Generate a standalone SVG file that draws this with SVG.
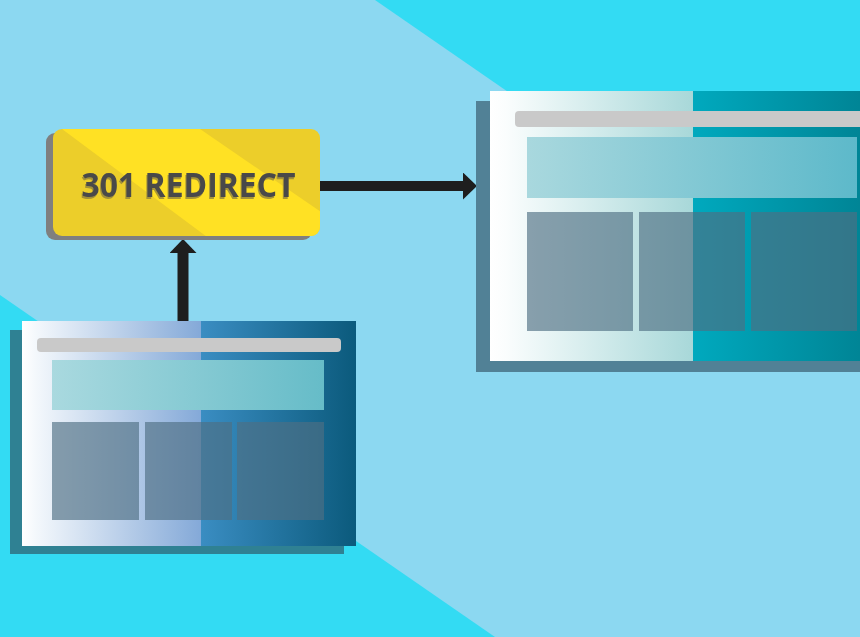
<svg xmlns="http://www.w3.org/2000/svg" width="860" height="637" viewBox="0 0 860 637">
  <defs>
    <linearGradient id="oldPage" gradientUnits="userSpaceOnUse" x1="22" y1="0" x2="356" y2="0">
      <stop offset="0" stop-color="#ffffff"/>
      <stop offset="0.04" stop-color="#f4f8fc"/>
      <stop offset="0.536" stop-color="#84a9d8"/>
      <stop offset="0.536" stop-color="#3a8dc2"/>
      <stop offset="1" stop-color="#0b5a7c"/>
    </linearGradient>
    <linearGradient id="newPage" gradientUnits="userSpaceOnUse" x1="490" y1="0" x2="900" y2="0">
      <stop offset="0" stop-color="#ffffff"/>
      <stop offset="0.04" stop-color="#fafdfd"/>
      <stop offset="0.495" stop-color="#a8d8d9"/>
      <stop offset="0.495" stop-color="#00a9be"/>
      <stop offset="1" stop-color="#007c8c"/>
    </linearGradient>
    <linearGradient id="oldBanner" gradientUnits="userSpaceOnUse" x1="52" y1="0" x2="324" y2="0">
      <stop offset="0" stop-color="#a9d9df"/>
      <stop offset="1" stop-color="#66bcc8"/>
    </linearGradient>
    <linearGradient id="newBanner" gradientUnits="userSpaceOnUse" x1="527" y1="0" x2="857" y2="0">
      <stop offset="0" stop-color="#a9d8de"/>
      <stop offset="1" stop-color="#5db9ca"/>
    </linearGradient>
    <marker id="head" markerUnits="userSpaceOnUse" markerWidth="14" markerHeight="27" refX="0" refY="13.5" orient="auto" viewBox="0 0 14 27">
      <path d="M0,0 L14,13.5 L0,27 Z" fill="#1e1e1e"/>
    </marker>
    <clipPath id="boxClip">
      <rect x="53" y="129" width="267" height="107" rx="9"/>
    </clipPath>
    <filter id="textShadow" x="-10%" y="-20%" width="120%" height="150%">
      <feOffset in="SourceAlpha" dx="-1.5" dy="2" result="off"/>
      <feFlood flood-color="#8a7d3c" flood-opacity="0.75"/>
      <feComposite in2="off" operator="in" result="shadow"/>
      <feMerge>
        <feMergeNode in="shadow"/>
        <feMergeNode in="SourceGraphic"/>
      </feMerge>
    </filter>
  </defs>
  <style>
    .bar { fill: #c9c9c9; }
    .block { fill: #4e6f83; fill-opacity: 0.65; }
    .conn { stroke: #1e1e1e; fill: none; marker-end: url(#head); }
    .label { font-family: "Open Sans", "Liberation Sans", sans-serif; font-weight: 700; font-size: 34px; }
  </style>

  <!-- background -->
  <rect x="0" y="0" width="860" height="637" fill="#8cd8f1"/>
  <polygon points="375,0 860,0 860,335" fill="#33dbf3"/>
  <polygon points="0,295 495,637 0,637" fill="#33dbf3"/>

  <!-- connectors -->
  <g id="connectors">
    <line class="conn" x1="319" y1="186" x2="463" y2="186" stroke-width="10"/>
    <line class="conn" x1="183" y1="322" x2="183" y2="253" stroke-width="11"/>
  </g>

  <!-- redirect node -->
  <g id="redirect">
    <rect x="46" y="133" width="266" height="107" rx="9" fill="#7f7f7f"/>
    <rect x="53" y="129" width="267" height="107" rx="9" fill="#ecce2a"/>
    <g clip-path="url(#boxClip)">
      <polygon points="62,129 200,129 340,225 340,260 238,260" fill="#ffe124"/>
    </g>
    <text class="label" x="81.5" y="197" fill="#4a4a4a" filter="url(#textShadow)" textLength="214" lengthAdjust="spacingAndGlyphs">301 REDIRECT</text>
  </g>

  <!-- old page node -->
  <g id="old-page">
    <rect x="10" y="330" width="334" height="224" fill="#2f8193"/>
    <rect x="22" y="321" width="334" height="225" fill="url(#oldPage)"/>
    <rect class="bar" x="37" y="338" width="304" height="14" rx="4"/>
    <rect x="52" y="360" width="272" height="50" fill="url(#oldBanner)"/>
    <rect class="block" x="52" y="422" width="87" height="98"/>
    <rect class="block" x="145" y="422" width="87" height="98"/>
    <rect class="block" x="237" y="422" width="87" height="98"/>
  </g>

  <!-- new page node -->
  <g id="new-page">
    <rect x="476" y="101" width="400" height="271" fill="#518196"/>
    <rect x="490" y="91" width="400" height="270" fill="url(#newPage)"/>
    <rect class="bar" x="515" y="111" width="360" height="16" rx="4"/>
    <rect x="527" y="137" width="330" height="61" fill="url(#newBanner)"/>
    <rect class="block" x="527" y="212" width="106" height="119"/>
    <rect class="block" x="639" y="212" width="106" height="119"/>
    <rect class="block" x="751" y="212" width="106" height="119"/>
  </g>
</svg>
